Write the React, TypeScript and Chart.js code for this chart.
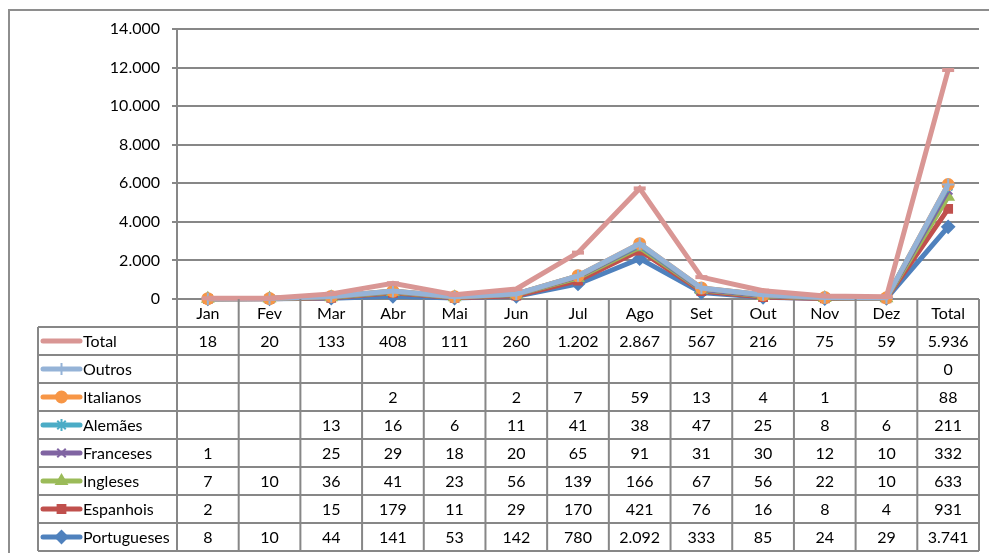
import React, { useEffect, useRef } from "react";
import { Chart, registerables } from "chart.js";
import { drawPoint } from "chart.js/helpers";

Chart.register(...registerables);

const categories = ["Jan", "Fev", "Mar", "Abr", "Mai", "Jun", "Jul", "Ago", "Set", "Out", "Nov", "Dez", "Total"];

const portugueses: (number | null)[] = [8, 10, 44, 141, 53, 142, 780, 2092, 333, 85, 24, 29, 3741];
const espanhois: (number | null)[] = [2, null, 15, 179, 11, 29, 170, 421, 76, 16, 8, 4, 931];
const ingleses: (number | null)[] = [7, 10, 36, 41, 23, 56, 139, 166, 67, 56, 22, 10, 633];
const franceses: (number | null)[] = [1, null, 25, 29, 18, 20, 65, 91, 31, 30, 12, 10, 332];
const alemaes: (number | null)[] = [null, null, 13, 16, 6, 11, 41, 38, 47, 25, 8, 6, 211];
const italianos: (number | null)[] = [null, null, null, 2, null, 2, 7, 59, 13, 4, 1, null, 88];
const outros: (number | null)[] = [null, null, null, null, null, null, null, null, null, null, null, null, 0];
const total: (number | null)[] = [18, 20, 133, 408, 111, 260, 1202, 2867, 567, 216, 75, 59, 5936];

const yTicks = { min: 0, max: 14000, step: 2000 };

// stacking order: bottom to top
const seriesDefs = [
  { label: "Portugueses", data: portugueses, color: "#4F81BD", style: "rectRot", radius: 6 },
  { label: "Espanhois", data: espanhois, color: "#C0504D", style: "rect", radius: 5.5 },
  { label: "Ingleses", data: ingleses, color: "#9BBB59", style: "triangle", radius: 6 },
  { label: "Franceses", data: franceses, color: "#8064A2", style: "crossRot", radius: 6 },
  { label: "Alemães", data: alemaes, color: "#4BACC6", style: "star", radius: 6 },
  { label: "Italianos", data: italianos, color: "#F79646", style: "circle", radius: 5.5 },
  { label: "Outros", data: outros, color: "#95B3D7", style: "cross", radius: 6 },
  { label: "Total", data: total, color: "#D99694", style: "line", radius: 6 },
];

const FONT = "Lato";
const FSIZE = 16;
const GRID = "#878787";

const fmt = (v: number | null) =>
  v === null || v === undefined ? "" : String(v).replace(/\B(?=(\d{3})+(?!\d))/g, ".");

const drawOrderPlugin = {
  id: "drawOrder",
  beforeDatasetsDraw(chart: any) {
    const n = chart.data.datasets.length;
    for (let i = 0; i < n; i++) {
      const meta = chart.getDatasetMeta(i);
      if (meta.visible !== false) meta.controller.draw();
    }
    return false;
  },
};

const framePlugin = {
  id: "frame",
  beforeDraw(chart: any) {
    const ctx = chart.ctx;
    ctx.save();
    ctx.strokeStyle = "#8e8e8e";
    ctx.lineWidth = 2;
    ctx.beginPath();
    ctx.moveTo(9, chart.height + 5);
    ctx.lineTo(9, 10);
    ctx.lineTo(chart.width + 5, 10);
    ctx.stroke();
    ctx.restore();
  },
};

const tablePlugin = {
  id: "dataTable",
  afterDraw(chart: any) {
    const ctx = chart.ctx;
    const xs = chart.scales.x;
    const area = chart.chartArea;
    const rowH = 28;
    const tableLeft = 38;
    const top = area.bottom;
    const n = categories.length;
    const centers = categories.map((_, i) => xs.getPixelForValue(i));
    const bounds: number[] = [area.left];
    for (let i = 0; i < n - 1; i++) bounds.push((centers[i] + centers[i + 1]) / 2);
    bounds.push(area.right);
    const rows = [...seriesDefs].reverse();
    const bottom = top + rowH * (rows.length + 1);

    ctx.save();
    ctx.strokeStyle = GRID;
    ctx.lineWidth = 2;
    ctx.beginPath();
    for (let k = 1; k <= rows.length + 1; k++) {
      const y = top + k * rowH;
      ctx.moveTo(tableLeft, y);
      ctx.lineTo(area.right, y);
    }
    bounds.forEach((bx) => {
      ctx.moveTo(bx, top);
      ctx.lineTo(bx, bottom);
    });
    ctx.moveTo(tableLeft, top + rowH);
    ctx.lineTo(tableLeft, bottom);
    ctx.stroke();

    ctx.fillStyle = "#000";
    ctx.font = `${FSIZE}px ${FONT}`;
    ctx.textBaseline = "middle";
    ctx.textAlign = "center";
    categories.forEach((c, i) => ctx.fillText(c, centers[i], top + rowH / 2 + 1));

    rows.forEach((s, r) => {
      const cy = top + rowH * (r + 1) + rowH / 2 + 1;
      ctx.textAlign = "center";
      ctx.fillStyle = "#000";
      s.data.forEach((v, i) => ctx.fillText(fmt(v), centers[i], cy));
      // legend key
      ctx.strokeStyle = s.color;
      ctx.lineWidth = 5;
      ctx.lineCap = "round";
      ctx.beginPath();
      ctx.moveTo(43, cy - 1);
      ctx.lineTo(80, cy - 1);
      ctx.stroke();
      ctx.lineCap = "butt";
      if (s.style !== "line") {
        ctx.fillStyle = s.color;
        ctx.strokeStyle = s.color;
        ctx.lineWidth = 2;
        drawPoint(ctx, { pointStyle: s.style as any, radius: s.radius, rotation: 0, borderWidth: 2 }, 61.5, cy - 1);
      }
      ctx.fillStyle = "#000";
      ctx.textAlign = "left";
      ctx.fillText(s.label, 83, cy);
    });
    ctx.restore();
  },
};

export default function App() {
  const ref = useRef<HTMLCanvasElement | null>(null);
  useEffect(() => {
    if (!ref.current) return;
    Chart.defaults.font.family = FONT;
    Chart.defaults.font.size = FSIZE;
    Chart.defaults.color = "#000";
    const chart = new Chart(ref.current, {
      type: "line",
      data: {
        labels: categories,
        datasets: seriesDefs.map((s) => ({
          label: s.label,
          data: s.data.map((v) => (v === null ? 0 : v)),
          borderColor: s.color,
          backgroundColor: s.color,
          pointBackgroundColor: s.color,
          pointBorderColor: s.color,
          pointStyle: s.style as any,
          pointRadius: s.radius,
          pointBorderWidth: s.style === "line" ? 4 : 2,
          borderWidth: 5,
          tension: 0,
          fill: false,
          clip: false as any,
        })),
      },
      options: {
        responsive: false,
        animation: false,
        layout: { padding: { top: 29, right: 9, left: 0, bottom: 0 } },
        plugins: { legend: { display: false }, tooltip: { enabled: false } },
        scales: {
          x: {
            offset: true,
            grid: { display: false },
            border: { display: false },
            ticks: { display: false },
            afterFit: (s: any) => {
              s.height = 254;
            },
          },
          y: {
            stacked: true,
            min: yTicks.min,
            max: yTicks.max,
            ticks: {
              stepSize: yTicks.step,
              padding: 12,
              color: "#000",
              font: { family: FONT, size: FSIZE },
              callback: (v: any) => fmt(Number(v)),
            },
            grid: { color: GRID, lineWidth: 2, tickLength: 5, drawTicks: true },
            border: { display: true, color: GRID, width: 2 },
            afterFit: (s: any) => {
              s.width = 177;
            },
          },
        },
      },
      plugins: [framePlugin, drawOrderPlugin, tablePlugin],
    });
    return () => chart.destroy();
  }, []);
  return (
    <div style={{ position: "fixed", left: 0, top: 0, width: 989, height: 553, background: "#fff" }}>
      <canvas ref={ref} width={989} height={553} style={{ display: "block" }} />
    </div>
  );
}
